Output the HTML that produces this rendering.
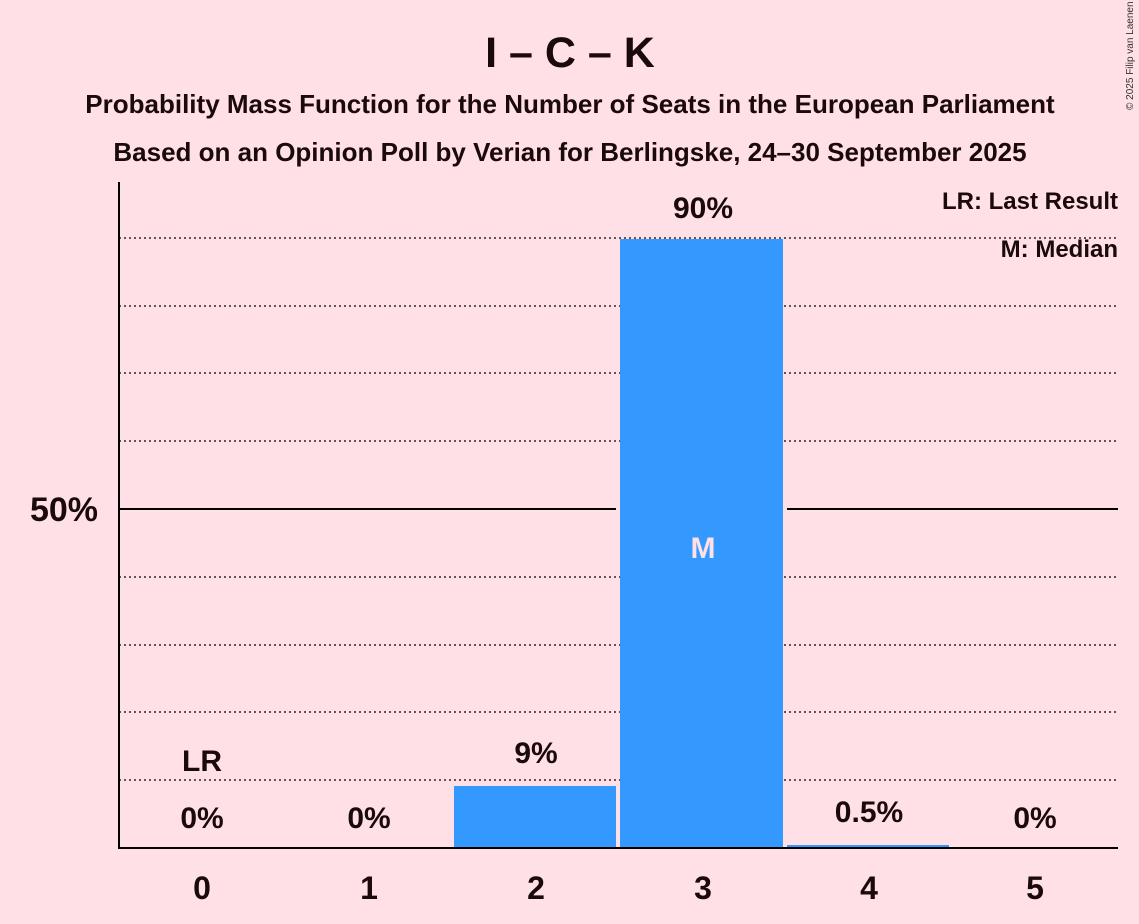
<!DOCTYPE html>
<html><head><meta charset="utf-8"><style>
body{margin:0;background:#ffe0e6;}
svg{display:block;font-family:"Liberation Sans",sans-serif;}
</style></head><body>
<svg width="1139" height="924" viewBox="0 0 1139 924">
<rect width="1139" height="924" fill="#ffe0e6"/>
<text x="570" y="67" text-anchor="middle" font-size="43" font-weight="bold" fill="#1a0a0a">I – C – K</text>
<text x="570" y="113" text-anchor="middle" font-size="26" font-weight="bold" fill="#1a0a0a">Probability Mass Function for the Number of Seats in the European Parliament</text>
<text x="570" y="161" text-anchor="middle" font-size="26" font-weight="bold" fill="#1a0a0a">Based on an Opinion Poll by Verian for Berlingske, 24–30 September 2025</text>
<text x="1133" y="110" font-size="10" fill="#333" transform="rotate(-90 1133 110)" text-anchor="start">© 2025 Filip van Laenen</text>
<g stroke="#000" stroke-width="1.3" stroke-dasharray="2,3">
<line x1="119" x2="1118" y1="780" y2="780"/>
<line x1="119" x2="1118" y1="712" y2="712"/>
<line x1="119" x2="1118" y1="645" y2="645"/>
<line x1="119" x2="1118" y1="577" y2="577"/>
<line x1="119" x2="1118" y1="441" y2="441"/>
<line x1="119" x2="1118" y1="373" y2="373"/>
<line x1="119" x2="1118" y1="306" y2="306"/>
<line x1="119" x2="1118" y1="238" y2="238"/>
</g>
<line x1="119" x2="1118" y1="509" y2="509" stroke="#000" stroke-width="2"/>
<rect x="454" y="786" width="162" height="62" fill="#3399ff"/>
<rect x="620" y="239" width="163" height="609" fill="#3399ff"/>
<rect x="787" y="845" width="162" height="3" fill="#3399ff"/>
<rect x="616" y="505" width="4" height="8" fill="#ffe0e6"/>
<rect x="783" y="505" width="4" height="8" fill="#ffe0e6"/>
<line x1="119" x2="119" y1="182" y2="849" stroke="#000" stroke-width="2"/>
<line x1="118" x2="1118" y1="848" y2="848" stroke="#000" stroke-width="2"/>
<text x="98" y="521" text-anchor="end" font-size="34" font-weight="bold" fill="#1a0a0a">50%</text>
<g font-size="32" font-weight="bold" fill="#1a0a0a" text-anchor="middle">
<text x="202" y="899">0</text><text x="369" y="899">1</text><text x="536" y="899">2</text>
<text x="703" y="899">3</text><text x="869" y="899">4</text><text x="1035" y="899">5</text>
</g>
<g font-size="30" font-weight="bold" fill="#1a0a0a" text-anchor="middle">
<text x="202" y="771">LR</text>
<text x="202" y="828">0%</text><text x="369" y="828">0%</text>
<text x="536" y="763">9%</text><text x="703" y="218">90%</text>
<text x="869" y="822">0.5%</text><text x="1035" y="828">0%</text>
</g>
<text x="703" y="558" text-anchor="middle" font-size="30" font-weight="bold" fill="#ffe0e6">M</text>
<text x="1118" y="209" text-anchor="end" font-size="24" font-weight="bold" fill="#1a0a0a">LR: Last Result</text>
<text x="1118" y="257" text-anchor="end" font-size="24" font-weight="bold" fill="#1a0a0a">M: Median</text>
</svg>
</body></html>
